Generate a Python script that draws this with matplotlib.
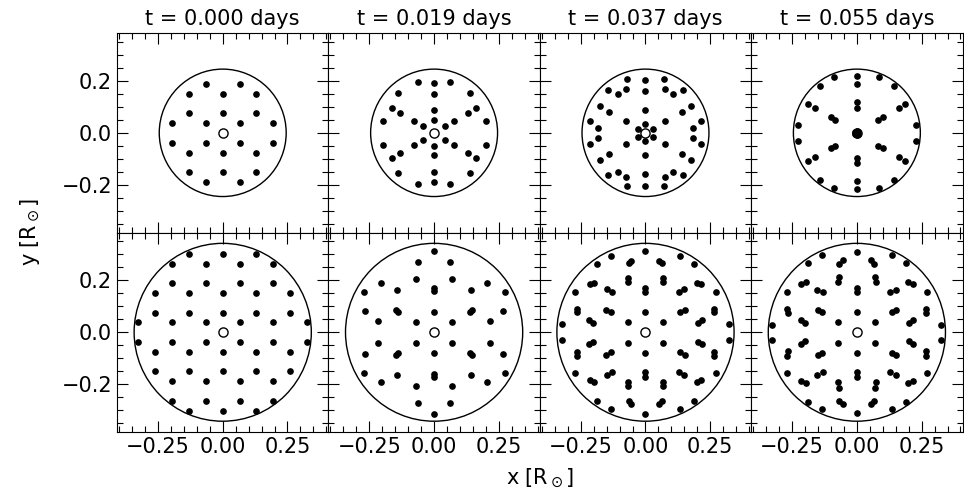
#!/usr/bin/env python3
"""
Snapshots of core (top row) and envelope (bottom row) particle positions
at four times, projected onto the x-y plane.
"""

import matplotlib
matplotlib.use("Agg")
import matplotlib.pyplot as plt
from matplotlib.ticker import MultipleLocator, AutoMinorLocator

times = [0.000, 0.019, 0.037, 0.055]   # days
r_core = 0.245                         # R_sun, top row circle
r_env = 0.342                          # R_sun, bottom row circle

# --- core particles (top row) ---
core_t0 = [
    (-0.065, 0.188), (0.065, 0.188),
    (-0.130, 0.151), (0.000, 0.151), (0.130, 0.151),
    (-0.130, 0.076), (0.000, 0.076), (0.130, 0.076),
    (-0.196, 0.038), (-0.065, 0.038), (0.065, 0.038), (0.196, 0.038),
    (-0.196, -0.038), (-0.065, -0.038), (0.065, -0.038), (0.196, -0.038),
    (-0.130, -0.076), (0.000, -0.076), (0.130, -0.076),
    (-0.130, -0.151), (0.000, -0.151), (0.130, -0.151),
    (-0.065, -0.188), (0.065, -0.188),
]

core_t1 = [
    (-0.064, 0.197), (0.000, 0.190), (0.063, 0.197),
    (-0.141, 0.154), (0.000, 0.151), (0.140, 0.154),
    (-0.163, 0.095), (0.163, 0.095),
    (-0.130, 0.076), (0.000, 0.087), (0.130, 0.076),
    (-0.199, 0.045), (-0.076, 0.045), (0.000, 0.050), (0.076, 0.045), (0.199, 0.045),
    (-0.044, 0.026), (0.044, 0.026),
    (-0.044, -0.026), (0.044, -0.026),
    (-0.199, -0.045), (-0.076, -0.045), (0.000, -0.050), (0.076, -0.045), (0.199, -0.045),
    (-0.130, -0.076), (0.000, -0.087), (0.130, -0.076),
    (-0.163, -0.095), (0.163, -0.095),
    (-0.141, -0.154), (0.000, -0.151), (0.140, -0.154),
    (-0.064, -0.197), (0.000, -0.190), (0.063, -0.197),
]

core_t2 = [
    (-0.070, 0.206), (0.000, 0.203), (0.070, 0.206),
    (-0.144, 0.163), (-0.108, 0.149), (-0.075, 0.168), (0.000, 0.160),
    (0.075, 0.168), (0.108, 0.149), (0.144, 0.163),
    (-0.176, 0.103), (0.176, 0.103),
    (-0.140, 0.081), (0.000, 0.087), (0.140, 0.081),
    (-0.213, 0.044), (-0.076, 0.044), (0.076, 0.044), (0.213, 0.044),
    (-0.183, 0.019), (0.183, 0.019),
    (0.000, 0.033), (-0.028, 0.015), (0.028, 0.015),
    (-0.028, -0.015), (0.028, -0.015), (0.000, -0.033),
    (-0.183, -0.019), (0.183, -0.019),
    (-0.213, -0.044), (-0.076, -0.044), (0.076, -0.044), (0.213, -0.044),
    (-0.140, -0.081), (0.000, -0.087), (0.140, -0.081),
    (-0.176, -0.103), (0.176, -0.103),
    (-0.144, -0.163), (-0.108, -0.149), (-0.075, -0.168), (0.000, -0.160),
    (0.075, -0.168), (0.108, -0.149), (0.144, -0.163),
    (-0.070, -0.206), (0.000, -0.203), (0.070, -0.206),
]

core_t3 = [
    (-0.087, 0.214), (0.000, 0.217), (0.087, 0.214),
    (0.000, 0.187),
    (-0.142, 0.181), (0.142, 0.181),
    (-0.187, 0.109), (-0.163, 0.094), (0.163, 0.094), (0.187, 0.109),
    (0.000, 0.117), (0.000, 0.097),
    (-0.101, 0.059), (-0.083, 0.049), (0.083, 0.049), (0.101, 0.059),
    (-0.229, 0.032), (0.229, 0.032),
    (0.000, 0.007), (0.006, 0.004), (0.006, -0.004),
    (0.000, -0.007), (-0.006, -0.004), (-0.006, 0.004),
    (-0.229, -0.032), (0.229, -0.032),
    (-0.101, -0.059), (-0.083, -0.049), (0.083, -0.049), (0.101, -0.059),
    (0.000, -0.117), (0.000, -0.097),
    (-0.187, -0.109), (-0.163, -0.094), (0.163, -0.094), (0.187, -0.109),
    (-0.142, -0.181), (0.142, -0.181),
    (0.000, -0.187),
    (-0.087, -0.214), (0.000, -0.217), (0.087, -0.214),
]

# --- envelope particles (bottom row) ---
env_t0 = [
    (-0.130, 0.301), (0.000, 0.301), (0.130, 0.301),
    (-0.195, 0.263), (-0.065, 0.263), (0.065, 0.263), (0.195, 0.263),
    (-0.195, 0.188), (-0.065, 0.188), (0.065, 0.188), (0.195, 0.188),
    (-0.260, 0.150), (-0.130, 0.150), (0.000, 0.150), (0.130, 0.150), (0.260, 0.150),
    (-0.260, 0.075), (-0.130, 0.075), (0.000, 0.075), (0.130, 0.075), (0.260, 0.075),
    (-0.326, 0.038), (-0.195, 0.038), (-0.065, 0.038), (0.065, 0.038), (0.195, 0.038), (0.326, 0.038),
    (-0.326, -0.038), (-0.195, -0.038), (-0.065, -0.038), (0.065, -0.038), (0.195, -0.038), (0.326, -0.038),
    (-0.260, -0.075), (-0.130, -0.075), (0.000, -0.075), (0.130, -0.075), (0.260, -0.075),
    (-0.260, -0.150), (-0.130, -0.150), (0.000, -0.150), (0.130, -0.150), (0.260, -0.150),
    (-0.195, -0.188), (-0.065, -0.188), (0.065, -0.188), (0.195, -0.188),
    (-0.195, -0.263), (-0.065, -0.263), (0.065, -0.263), (0.195, -0.263),
    (-0.130, -0.301), (0.000, -0.301), (0.130, -0.301),
]

env_t1 = [
    (0.000, 0.314),
    (-0.061, 0.272), (0.061, 0.272),
    (-0.071, 0.206), (0.071, 0.206),
    (-0.206, 0.190), (0.206, 0.190),
    (-0.272, 0.156), (-0.143, 0.164), (0.000, 0.171), (0.000, 0.160), (0.143, 0.164), (0.272, 0.156),
    (-0.267, 0.083), (-0.148, 0.086), (-0.139, 0.079), (0.000, 0.078),
    (0.139, 0.079), (0.148, 0.086), (0.267, 0.083),
    (-0.215, 0.042), (-0.070, 0.040), (0.070, 0.040), (0.215, 0.042),
    (-0.215, -0.042), (-0.070, -0.040), (0.070, -0.040), (0.215, -0.042),
    (-0.267, -0.083), (-0.148, -0.086), (-0.139, -0.079), (0.000, -0.078),
    (0.139, -0.079), (0.148, -0.086), (0.267, -0.083),
    (-0.272, -0.156), (-0.143, -0.164), (0.000, -0.171), (0.000, -0.160), (0.143, -0.164), (0.272, -0.156),
    (-0.206, -0.190), (0.206, -0.190),
    (-0.071, -0.206), (0.071, -0.206),
    (-0.061, -0.272), (0.061, -0.272),
    (0.000, -0.314),
]

env_t2 = [
    (0.000, 0.314),
    (-0.135, 0.294), (0.135, 0.294),
    (-0.187, 0.264), (0.187, 0.264),
    (-0.065, 0.265), (-0.054, 0.274), (0.054, 0.274), (0.065, 0.265),
    (-0.069, 0.208), (-0.069, 0.192), (0.069, 0.208), (0.069, 0.192),
    (-0.213, 0.185), (-0.199, 0.191), (0.199, 0.191), (0.213, 0.185),
    (-0.271, 0.156), (0.271, 0.156),
    (0.000, 0.172), (0.000, 0.154),
    (-0.147, 0.165), (-0.131, 0.154), (0.131, 0.154), (0.147, 0.165),
    (-0.266, 0.091), (-0.266, 0.077), (0.266, 0.091), (0.266, 0.077),
    (-0.151, 0.087), (-0.135, 0.077), (0.135, 0.077), (0.151, 0.087),
    (0.000, 0.078),
    (-0.217, 0.047), (-0.203, 0.037), (0.203, 0.037), (0.217, 0.047),
    (-0.068, 0.040), (0.068, 0.040),
    (-0.323, 0.031), (0.323, 0.031),
    (-0.323, -0.031), (0.323, -0.031),
    (-0.068, -0.040), (0.068, -0.040),
    (-0.217, -0.047), (-0.203, -0.037), (0.203, -0.037), (0.217, -0.047),
    (0.000, -0.078),
    (-0.151, -0.087), (-0.135, -0.077), (0.135, -0.077), (0.151, -0.087),
    (-0.266, -0.091), (-0.266, -0.077), (0.266, -0.091), (0.266, -0.077),
    (-0.147, -0.165), (-0.131, -0.154), (0.131, -0.154), (0.147, -0.165),
    (0.000, -0.172), (0.000, -0.154),
    (-0.271, -0.156), (0.271, -0.156),
    (-0.213, -0.185), (-0.199, -0.191), (0.199, -0.191), (0.213, -0.185),
    (-0.069, -0.208), (-0.069, -0.192), (0.069, -0.208), (0.069, -0.192),
    (-0.065, -0.265), (-0.054, -0.274), (0.054, -0.274), (0.065, -0.265),
    (-0.187, -0.264), (0.187, -0.264),
    (-0.135, -0.294), (0.135, -0.294),
    (0.000, -0.314),
]

env_t3 = [
    (0.000, 0.310),
    (-0.136, 0.296), (0.136, 0.296),
    (-0.189, 0.267), (0.189, 0.267),
    (-0.068, 0.264), (-0.054, 0.277), (0.054, 0.277), (0.068, 0.264),
    (-0.069, 0.214), (-0.073, 0.192), (0.069, 0.214), (0.073, 0.192),
    (-0.215, 0.187), (-0.196, 0.194), (0.196, 0.194), (0.215, 0.187),
    (-0.269, 0.155), (0.269, 0.155),
    (0.000, 0.171), (0.000, 0.154),
    (-0.153, 0.164), (-0.129, 0.154), (0.129, 0.154), (0.153, 0.164),
    (-0.268, 0.090), (-0.267, 0.073), (0.268, 0.090), (0.267, 0.073),
    (-0.150, 0.086), (-0.135, 0.078), (0.135, 0.078), (0.150, 0.086),
    (0.000, 0.078),
    (-0.217, 0.047), (-0.201, 0.035), (0.201, 0.035), (0.217, 0.047),
    (-0.071, 0.040), (0.071, 0.040),
    (-0.326, 0.029), (0.326, 0.029),
    (-0.326, -0.029), (0.326, -0.029),
    (-0.071, -0.040), (0.071, -0.040),
    (-0.217, -0.047), (-0.201, -0.035), (0.201, -0.035), (0.217, -0.047),
    (0.000, -0.078),
    (-0.150, -0.086), (-0.135, -0.078), (0.135, -0.078), (0.150, -0.086),
    (-0.268, -0.090), (-0.267, -0.073), (0.268, -0.090), (0.267, -0.073),
    (-0.153, -0.164), (-0.129, -0.154), (0.129, -0.154), (0.153, -0.164),
    (0.000, -0.171), (0.000, -0.154),
    (-0.269, -0.155), (0.269, -0.155),
    (-0.215, -0.187), (-0.196, -0.194), (0.196, -0.194), (0.215, -0.187),
    (-0.069, -0.214), (-0.073, -0.192), (0.069, -0.214), (0.073, -0.192),
    (-0.068, -0.264), (-0.054, -0.277), (0.054, -0.277), (0.068, -0.264),
    (-0.189, -0.267), (0.189, -0.267),
    (-0.136, -0.296), (0.136, -0.296),
    (0.000, -0.310),
]

core = [core_t0, core_t1, core_t2, core_t3]
env = [env_t0, env_t1, env_t2, env_t3]


def draw_panel(ax, pts, radius):
    ax.add_patch(plt.Circle((0, 0), radius, fill=False, color="k", lw=1.0))
    # central object first, so particles sitting on it cover it
    ax.plot(0, 0, "o", ms=6.6, mfc="white", mec="k", mew=1.0, zorder=2)
    ax.plot([p[0] for p in pts], [p[1] for p in pts], "o", ms=3.8,
            color="k", ls="none", zorder=3)


def main():
    fs = 15
    fig, axes = plt.subplots(2, 4, figsize=(9.64, 4.94), dpi=100)
    fig.subplots_adjust(left=0.1214, right=0.9985, bottom=0.1255, top=0.933,
                        wspace=0, hspace=0)

    for row, (sets, radius) in enumerate([(core, r_core), (env, r_env)]):
        for col in range(4):
            ax = axes[row, col]
            draw_panel(ax, sets[col], radius)
            ax.set_xlim(-0.408, 0.408)
            ax.set_ylim(-0.3835, 0.3835)
            ax.xaxis.set_major_locator(MultipleLocator(0.25))
            ax.yaxis.set_major_locator(MultipleLocator(0.2))
            ax.xaxis.set_minor_locator(AutoMinorLocator())
            ax.yaxis.set_minor_locator(AutoMinorLocator())
            ax.tick_params(which="both", direction="in", top=True, right=True,
                           labelsize=fs, width=0.8)
            ax.tick_params(which="major", length=8)
            ax.tick_params(which="minor", length=4.5)
            if col > 0:
                ax.tick_params(labelleft=False)
            if row == 0:
                ax.tick_params(labelbottom=False)
                ax.set_title(f"t = {times[col]:.3f} days", fontsize=fs, pad=6)

    fig.text(0.56, 0.032, r"x [R$_\odot$]", ha="center", va="center", fontsize=fs)
    fig.text(0.031, 0.53, r"y [R$_\odot$]", ha="center", va="center",
             rotation=90, fontsize=fs)

    fig.savefig("out.png", dpi=100)
    plt.close(fig)


if __name__ == "__main__":
    main()
